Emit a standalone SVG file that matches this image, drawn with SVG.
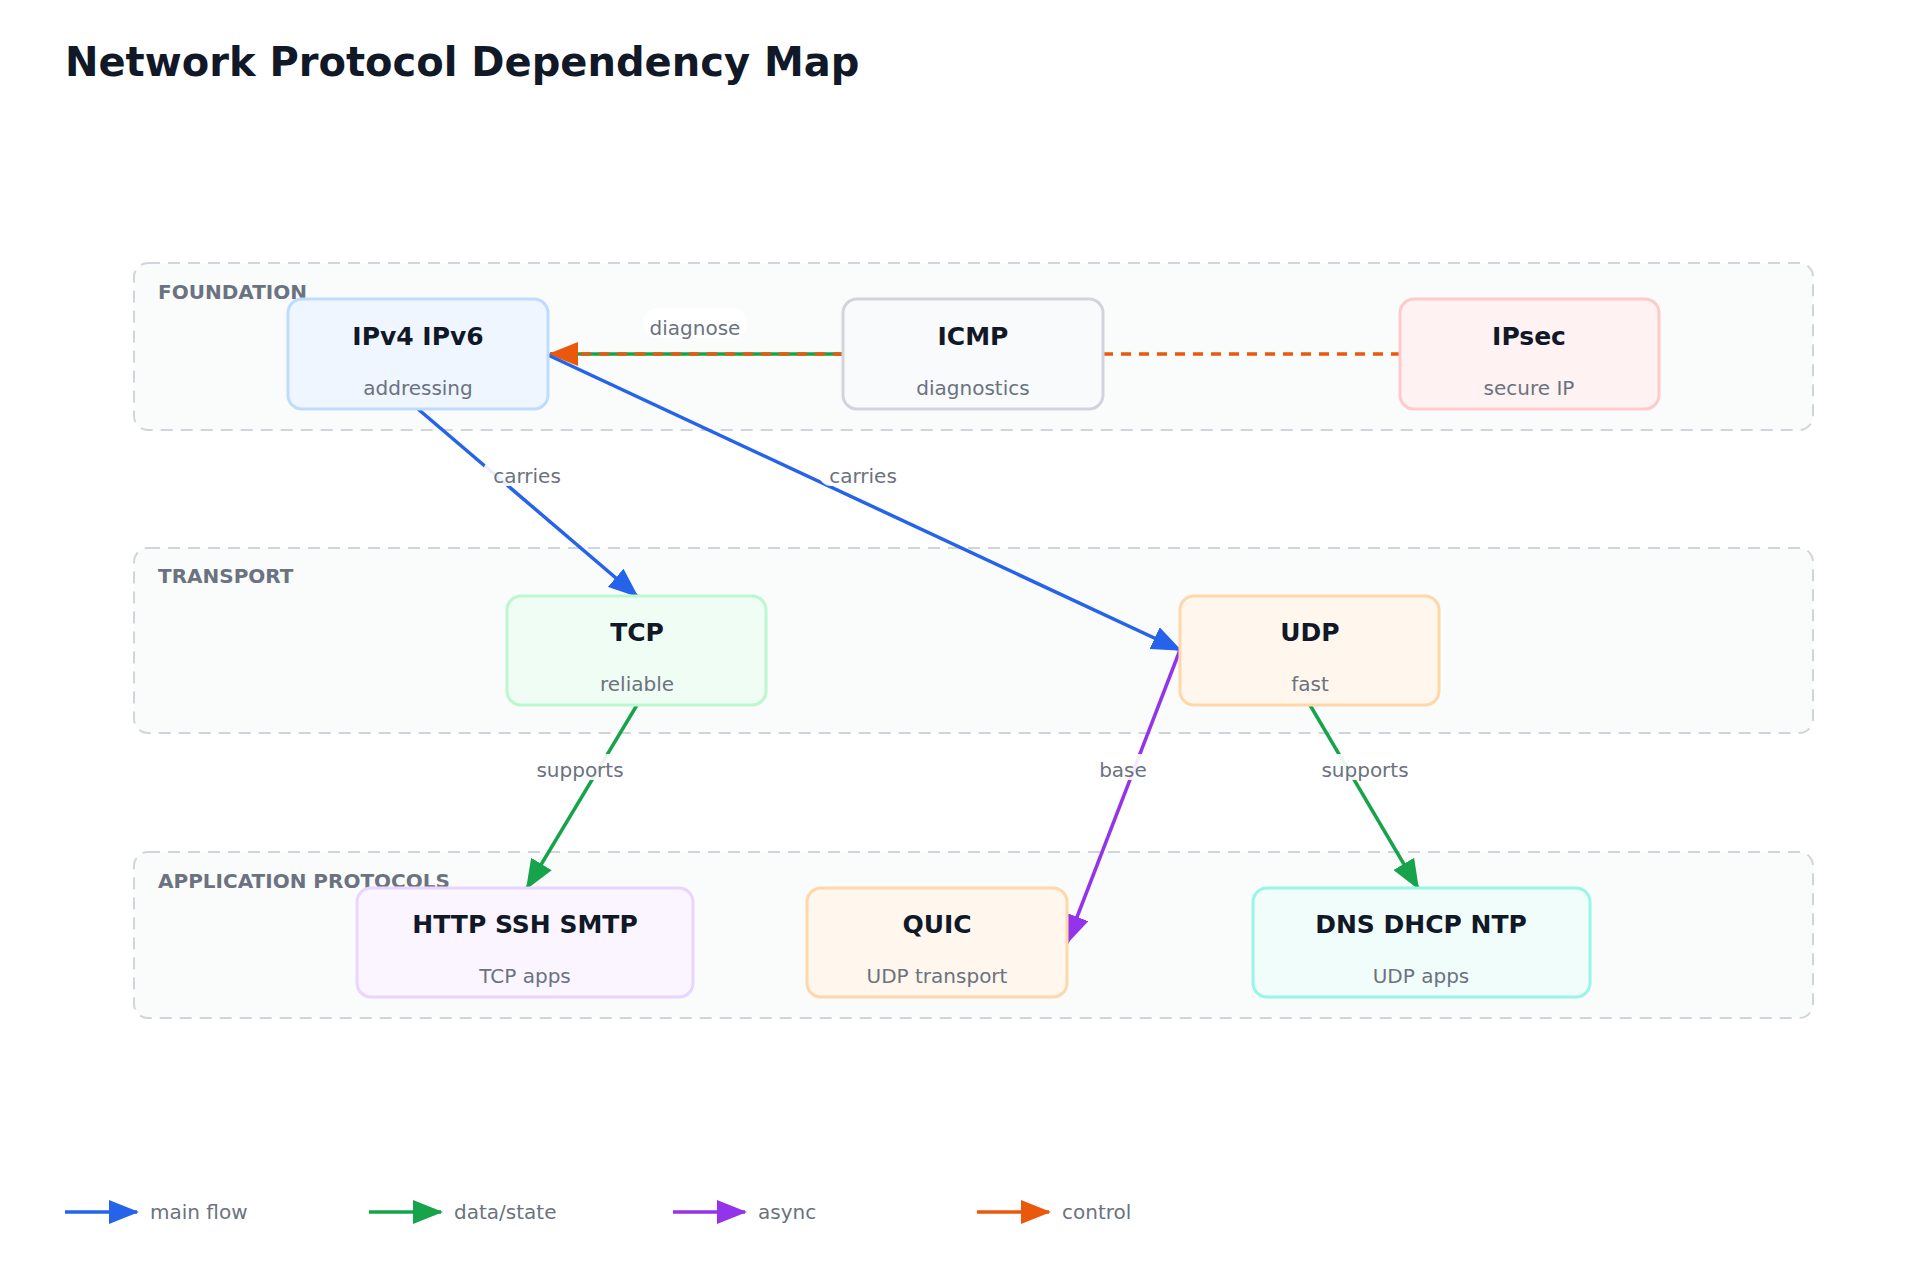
<svg xmlns="http://www.w3.org/2000/svg" width="1920" height="1280" viewBox="0 0 1920 1280">
<style>
text{font-family:"DejaVu Sans","Liberation Sans",sans-serif}
.title{font-size:40px;font-weight:bold;fill:#111827}
.grp{fill:#fafbfb;stroke:#d1d5db;stroke-width:2;stroke-dasharray:12 8}
.glabel{font-size:20px;font-weight:bold;fill:#6b7280}
.nt{font-size:25px;font-weight:bold;fill:#111827;text-anchor:middle}
.ns{font-size:20px;fill:#6b7280;text-anchor:middle}
.node{stroke-width:3}
.el{font-size:20px;fill:#6b7280;text-anchor:middle}
.lbg{fill:#fff;opacity:0.9}
.e{fill:none;stroke-width:3.5}
.leg{font-size:20px;fill:#6b7280}
</style>
<defs>
<marker id="aB" markerUnits="userSpaceOnUse" markerWidth="30" markerHeight="24" refX="28" refY="12" orient="auto"><path d="M0,0 L30,12 L0,24 z" fill="#2563eb"/></marker>
<marker id="aG" markerUnits="userSpaceOnUse" markerWidth="30" markerHeight="24" refX="28" refY="12" orient="auto"><path d="M0,0 L30,12 L0,24 z" fill="#16a34a"/></marker>
<marker id="aP" markerUnits="userSpaceOnUse" markerWidth="30" markerHeight="24" refX="28" refY="12" orient="auto"><path d="M0,0 L30,12 L0,24 z" fill="#9333ea"/></marker>
<marker id="aO" markerUnits="userSpaceOnUse" markerWidth="30" markerHeight="24" refX="28" refY="12" orient="auto"><path d="M0,0 L30,12 L0,24 z" fill="#ea580c"/></marker>
</defs>
<rect width="1920" height="1280" fill="#fff"/>
<text class="title" x="65" y="76">Network Protocol Dependency Map</text>

<g id="groups">
<rect class="grp" x="134" y="263" width="1679" height="167" rx="14"/>
<text class="glabel" x="158" y="299">FOUNDATION</text>
<rect class="grp" x="134" y="548" width="1679" height="185" rx="14"/>
<text class="glabel" x="158" y="583">TRANSPORT</text>
<rect class="grp" x="134" y="852" width="1679" height="166" rx="14"/>
<text class="glabel" x="158" y="888">APPLICATION PROTOCOLS</text>
</g>

<g id="connectors">
<line x1="843" y1="354" x2="550" y2="354" stroke="#16a34a" class="e"/>
<line x1="843" y1="354" x2="550" y2="354" stroke="#ea580c" class="e" stroke-dasharray="10 8" marker-end="url(#aO)"/>
<line x1="1103" y1="354" x2="1400" y2="354" stroke="#ea580c" class="e" stroke-dasharray="10 8"/>
<line x1="418" y1="409" x2="637" y2="596" stroke="#2563eb" class="e" marker-end="url(#aB)"/>
<line x1="548" y1="355" x2="1180" y2="650" stroke="#2563eb" class="e" marker-end="url(#aB)"/>
<line x1="637" y1="705" x2="527" y2="888" stroke="#16a34a" class="e" marker-end="url(#aG)"/>
<line x1="1180" y1="650" x2="1067" y2="943" stroke="#9333ea" class="e" marker-end="url(#aP)"/>
<line x1="1310" y1="705" x2="1418" y2="888" stroke="#16a34a" class="e" marker-end="url(#aG)"/>
<rect class="lbg" x="643" y="308" width="104" height="30" rx="14"/>
<text class="el" x="695" y="335">diagnose</text>
<rect class="lbg" x="483" y="460" width="88" height="26" rx="12"/>
<text class="el" x="527" y="483">carries</text>
<rect class="lbg" x="819" y="460" width="88" height="26" rx="12"/>
<text class="el" x="863" y="483">carries</text>
<rect class="lbg" x="528" y="754" width="104" height="26" rx="12"/>
<text class="el" x="580" y="777">supports</text>
<rect class="lbg" x="1093" y="754" width="60" height="26" rx="12"/>
<text class="el" x="1123" y="777">base</text>
<rect class="lbg" x="1313" y="754" width="104" height="26" rx="12"/>
<text class="el" x="1365" y="777">supports</text>
</g>

<g id="ipv4"><rect class="node" x="288" y="299" width="260" height="110" rx="14" fill="#eff6ff" stroke="#bfdbfe"/><text class="nt" x="418" y="345">IPv4 IPv6</text><text class="ns" x="418" y="395">addressing</text></g>
<g id="icmp"><rect class="node" x="843" y="299" width="260" height="110" rx="14" fill="#f8fafc" stroke="#d1d5db"/><text class="nt" x="973" y="345">ICMP</text><text class="ns" x="973" y="395">diagnostics</text></g>
<g id="ipsec"><rect class="node" x="1400" y="299" width="259" height="110" rx="14" fill="#fef2f2" stroke="#fecaca"/><text class="nt" x="1529" y="345">IPsec</text><text class="ns" x="1529" y="395">secure IP</text></g>
<g id="tcp"><rect class="node" x="507" y="596" width="259" height="109" rx="14" fill="#f0fdf4" stroke="#bbf7d0"/><text class="nt" x="637" y="641">TCP</text><text class="ns" x="637" y="691">reliable</text></g>
<g id="udp"><rect class="node" x="1180" y="596" width="259" height="109" rx="14" fill="#fff7ed" stroke="#fed7aa"/><text class="nt" x="1310" y="641">UDP</text><text class="ns" x="1310" y="691">fast</text></g>
<g id="http"><rect class="node" x="357" y="888" width="336" height="109" rx="14" fill="#faf5ff" stroke="#e9d5ff"/><text class="nt" x="525" y="933">HTTP SSH SMTP</text><text class="ns" x="525" y="983">TCP apps</text></g>
<g id="quic"><rect class="node" x="807" y="888" width="260" height="109" rx="14" fill="#fff7ed" stroke="#fed7aa"/><text class="nt" x="937" y="933">QUIC</text><text class="ns" x="937" y="983">UDP transport</text></g>
<g id="dns"><rect class="node" x="1253" y="888" width="337" height="109" rx="14" fill="#f0fdfa" stroke="#99f6e4"/><text class="nt" x="1421" y="933">DNS DHCP NTP</text><text class="ns" x="1421" y="983">UDP apps</text></g>

<g id="legend">
<line x1="65" y1="1212" x2="137" y2="1212" stroke="#2563eb" class="e" marker-end="url(#aB)"/><text class="leg" x="150" y="1219">main flow</text>
<line x1="369" y1="1212" x2="441" y2="1212" stroke="#16a34a" class="e" marker-end="url(#aG)"/><text class="leg" x="454" y="1219">data/state</text>
<line x1="673" y1="1212" x2="745" y2="1212" stroke="#9333ea" class="e" marker-end="url(#aP)"/><text class="leg" x="758" y="1219">async</text>
<line x1="977" y1="1212" x2="1049" y2="1212" stroke="#ea580c" class="e" marker-end="url(#aO)"/><text class="leg" x="1062" y="1219">control</text>
</g>
</svg>
